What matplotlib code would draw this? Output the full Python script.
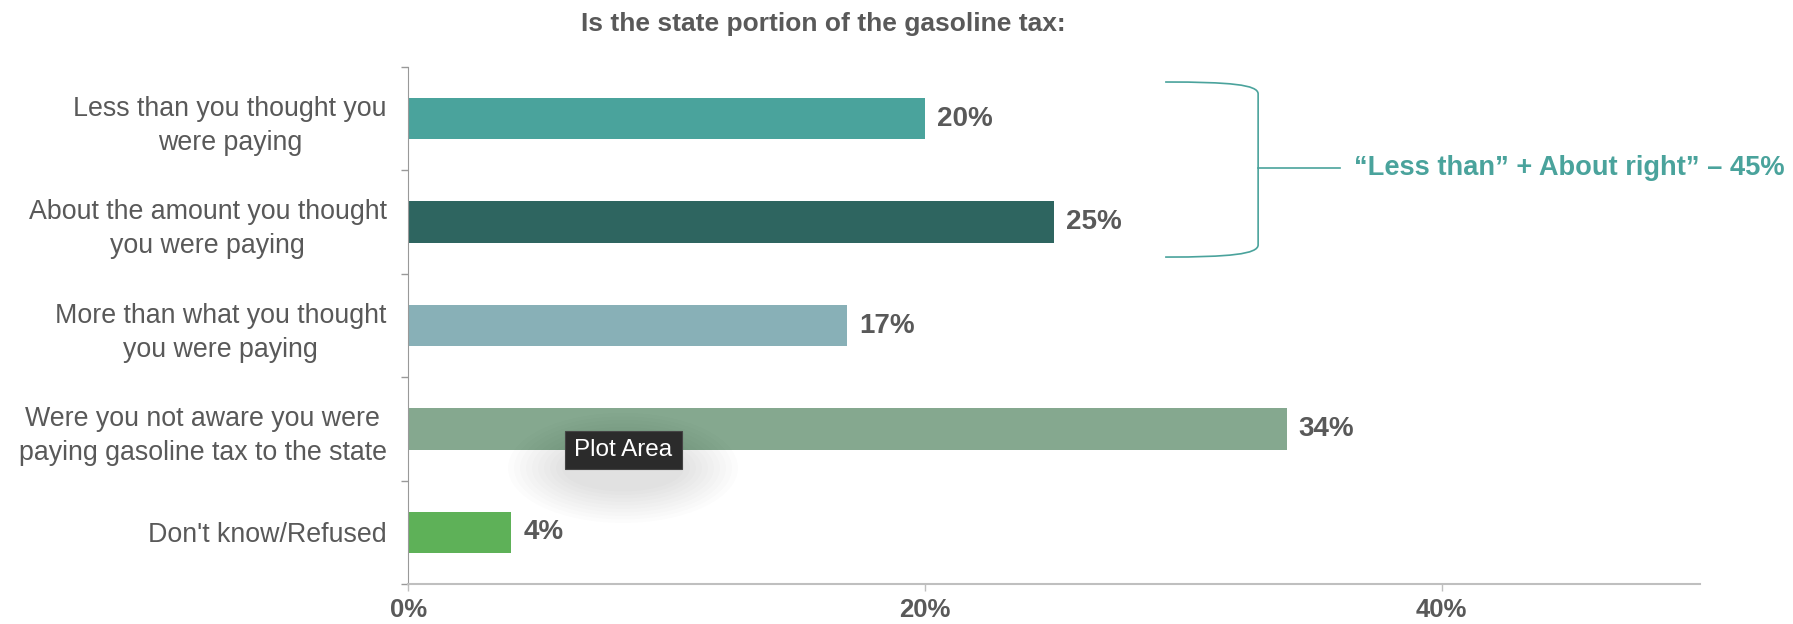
import matplotlib

matplotlib.use("Agg")
import matplotlib.pyplot as plt
from matplotlib.patches import Ellipse, PathPatch, Rectangle
from matplotlib.path import Path

categories = [
    "Less than you thought you\nwere paying",
    "About the amount you thought\nyou were paying",
    "More than what you thought\nyou were paying",
    "Were you not aware you were\npaying gasoline tax to the state",
    "Don't know/Refused",
]
values = [20, 25, 17, 34, 4]
bar_colors = ["#4AA39C", "#2E6560", "#88B0B7", "#85A88F", "#5EB158"]
x_ticks = [0, 20, 40]
x_tick_labels = ["0%", "20%", "40%"]

title = "Is the state portion of the gasoline tax:"
bracket_note = "\u201cLess than\u201d + About right\u201d \u2013 45%"

GREY = "#595959"
TEAL = "#4AA39C"
W, H = 1793, 624

plt.rcParams["font.family"] = ["Liberation Sans", "DejaVu Sans"]

fig = plt.figure(figsize=(W / 100, H / 100), dpi=100)
ax = fig.add_axes([0.2276, 0.0641, 0.9481 - 0.2276, 0.8926 - 0.0641])

ypos = list(range(len(categories)))
ax.barh(ypos, values, height=0.4, color=bar_colors)
for y, v in zip(ypos, values):
    ax.annotate(f"{v}%", (v, y), xytext=(8.5, 0), textcoords="offset points",
                va="center", ha="left", fontsize=20, fontweight="bold", color=GREY)

ax.set_xlim(0, 50)
ax.set_ylim(len(categories) - 0.5, -0.5)

# category labels on minor ticks, tick marks on the boundaries
ax.set_yticks([i - 0.5 for i in range(len(categories) + 1)])
ax.set_yticklabels([])
ax.set_yticks(ypos, minor=True)
ax.set_yticklabels(categories, minor=True, fontsize=19.3, color=GREY,
                   multialignment="center", linespacing=1.4)
ax.tick_params(axis="y", which="minor", length=0, pad=15.5)
ax.tick_params(axis="y", which="major", length=5, width=1, color="#999999")

ax.set_xticks(x_ticks)
ax.set_xticklabels(x_tick_labels, fontsize=18.5, fontweight="bold", color=GREY)
ax.tick_params(axis="x", length=5, width=1, color="#BFBFBF", pad=5)

for side in ["top", "right"]:
    ax.spines[side].set_visible(False)
ax.spines["left"].set_color("#999999")
ax.spines["bottom"].set_color("#BFBFBF")
ax.spines["bottom"].set_linewidth(1.5)

fig.text(0.459, 0.951, title, ha="center", va="baseline",
         fontsize=19, fontweight="bold", color=GREY)

# bracket grouping the first two answers
verts = [
    (29.3, -0.355), (31.8, -0.355), (32.9, -0.33), (32.9, -0.24),
    (32.9, 1.22),
    (32.9, 1.31), (31.8, 1.338), (29.3, 1.338),
]
codes = [Path.MOVETO, Path.CURVE4, Path.CURVE4, Path.CURVE4,
         Path.LINETO,
         Path.CURVE4, Path.CURVE4, Path.CURVE4]
ax.add_patch(PathPatch(Path(verts, codes), fill=False, edgecolor=TEAL,
                       lw=1.2, clip_on=False))
ax.plot([32.9, 36.08], [0.477, 0.477], color=TEAL, lw=1.2, clip_on=False)
ax.text(36.6, 0.477, bracket_note, ha="left", va="center", fontsize=19.6,
        fontweight="bold", color=TEAL, clip_on=False)

# tooltip captured in the screenshot, with a soft shadow under it
for k in range(10):
    fig.add_artist(Ellipse((623 / W, 1 - 468 / H), (230 - 12 * k) / W,
                           (110 - 7 * k) / H, transform=fig.transFigure,
                           facecolor="black", edgecolor="none",
                           alpha=0.012, zorder=9))
fig.add_artist(Rectangle((565 / W, 1 - 469 / H), 117 / W, 38 / H,
                         transform=fig.transFigure, facecolor="#2B2B2B",
                         edgecolor="#444444", lw=0.8, zorder=10))
fig.text(623.5 / W, 1 - 450 / H, "Plot Area", ha="center", va="center",
         fontsize=17.5, color="white", zorder=11)

fig.savefig("out.png", dpi=100)
